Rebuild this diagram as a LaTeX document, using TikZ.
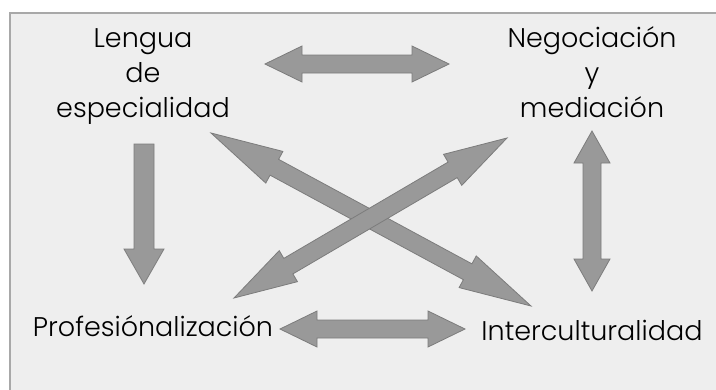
\documentclass[tikz,border=0pt]{standalone}
\usepackage{fontspec}
\setmainfont{Poppins}[UprightFont=* Light]
\usetikzlibrary{calc}

\definecolor{bgfill}{HTML}{EEEEEE}
\definecolor{framegray}{HTML}{A8A8A8}
\definecolor{arrowfill}{HTML}{999999}
\definecolor{arrowline}{HTML}{7C7C7C}

\tikzset{
  concept/.style={align=center, inner sep=0pt, font=\fontsize{27}{35}\selectfont},
  blockarrow/.style={fill=arrowfill, draw=arrowline, line width=0.8pt, line join=miter},
}

% block arrow with two heads: [head length]{from}{to}
\newcommand{\dblarrow}[3][37pt]{%
  \coordinate (ha) at ($(#2)!#1!(#3)$);
  \coordinate (hb) at ($(#3)!#1!(#2)$);
  \path[blockarrow] (#2)
    -- ($(ha)!18pt!90:(#3)$) -- ($(ha)!9pt!90:(#3)$)
    -- ($(hb)!9pt!-90:(#2)$) -- ($(hb)!18pt!-90:(#2)$)
    -- (#3)
    -- ($(hb)!18pt!90:(#2)$) -- ($(hb)!9pt!90:(#2)$)
    -- ($(ha)!9pt!-90:(#3)$) -- ($(ha)!18pt!-90:(#3)$)
    -- cycle;
}
% block arrow with one head: [head length]{tail}{tip}
\newcommand{\sglarrow}[3][35pt]{%
  \coordinate (hs) at ($(#3)!#1!(#2)$);
  \path[blockarrow] ($(#2)!10pt!90:(#3)$)
    -- ($(hs)!10pt!-90:(#2)$) -- ($(hs)!20pt!-90:(#2)$)
    -- (#3)
    -- ($(hs)!20pt!90:(#2)$) -- ($(hs)!10pt!90:(#2)$)
    -- ($(#2)!10pt!-90:(#3)$) -- cycle;
}

\begin{document}
\begin{tikzpicture}[x=1pt, y=-1pt]
  \useasboundingbox (0,0) rectangle (716,389);
  \fill[white] (0,0) rectangle (716,389);
  \draw[framegray, fill=bgfill, line width=1.5pt] (10,13) rectangle (730,400);

  % anchor=base sits on the last line
  \node[concept, anchor=base] (lengua)    at (143,117) {Lengua\\de\\especialidad};
  \node[concept, anchor=base] (negoc)     at (592,117) {Negociación\\y\\mediación};
  \node[concept, anchor=base] (profes)    at (153,336) {Profesiónalización};
  \node[concept, anchor=base] (intercult) at (592,340) {Interculturalidad};

  % arrow ends
  \coordinate (top1) at (265,64);  \coordinate (top2) at (449,64);
  \coordinate (lft1) at (144,144); \coordinate (lft2) at (144,284);
  \coordinate (rgt1) at (592,131); \coordinate (rgt2) at (592,291);
  \coordinate (bot1) at (280,329); \coordinate (bot2) at (465,329);
  \coordinate (dgA1) at (211,133); \coordinate (dgA2) at (531,306);
  \coordinate (dgB1) at (234,298); \coordinate (dgB2) at (507,138);

  \dblarrow{top1}{top2}
  \sglarrow{lft1}{lft2}
  \dblarrow[32pt]{rgt1}{rgt2}
  \dblarrow{bot1}{bot2}
  \dblarrow[72pt]{dgA1}{dgA2}
  \dblarrow[63pt]{dgB1}{dgB2}
\end{tikzpicture}
\end{document}
